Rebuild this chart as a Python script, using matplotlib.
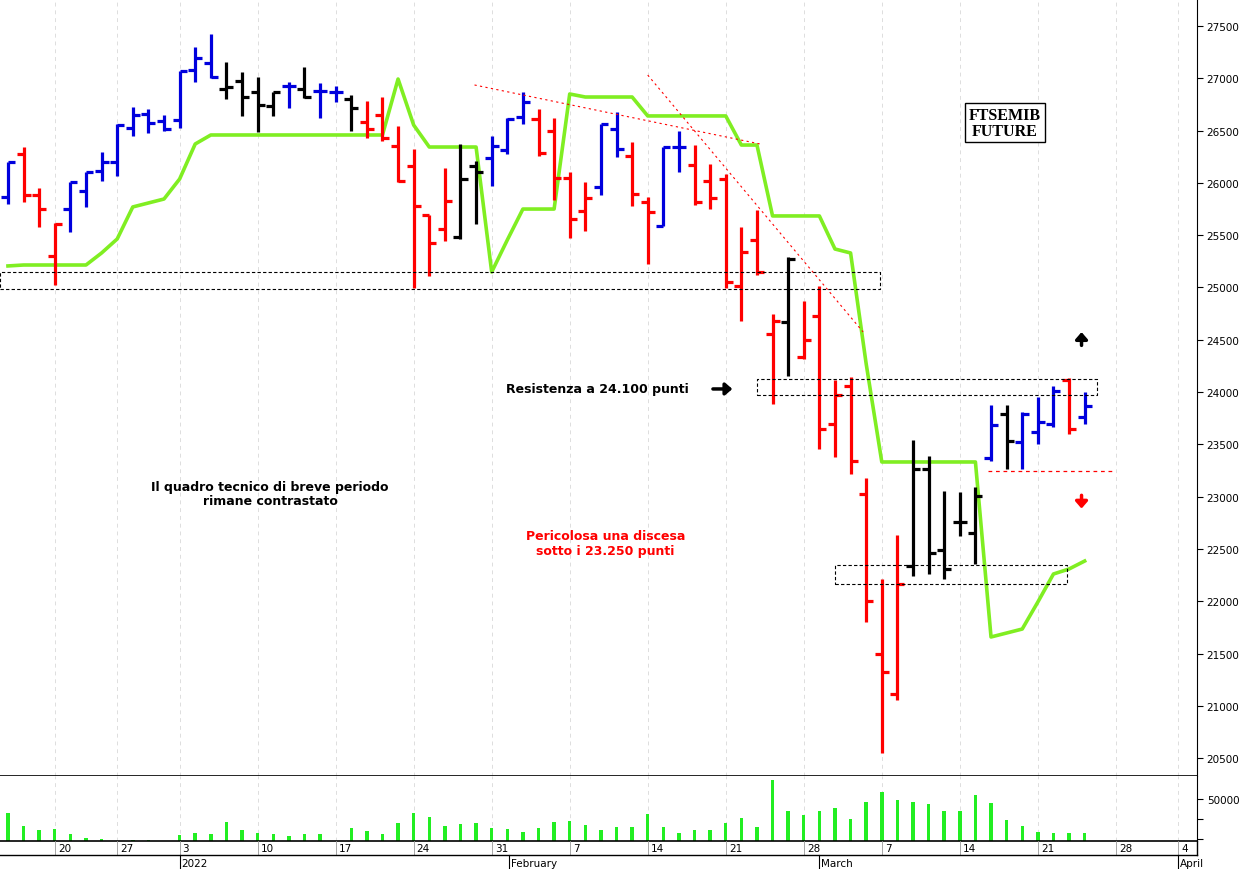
import matplotlib.pyplot as plt
import numpy as np

# ── DATA ──────────────────────────────────────────────────────────────────
OPEN = [25865, 26276, 25884, 25301, 25750, 25922, 26114, 26200, 26525, 26659,
        26592, 26601, 27079, 27146, 26898, 26974, 26869, 26735, 26926, 26898,
        26878, 26869, 26802, 26582, 26649, 26353, 26161, 25693, 25559, 25483,
        26161, 26238, 26314, 26630, 26611, 26496, 26047, 25731, 25961, 26515,
        26257, 25817, 25588, 26343, 26171, 26018, 26037, 25014, 25454, 24555,
        24670, 24336, 24727, 23695, 24058, 23026, 21496, 21114, 22337, 23265,
        22490, 22758, 22653, 23370, 23791, 23523, 23619, 23695, 24116, 23762]
HIGH = [26200, 26343, 25951, 25617, 26009, 26104, 26295, 26563, 26726, 26706,
        26649, 27070, 27299, 27423, 27156, 27060, 27012, 26869, 26965, 27108,
        26955, 26926, 26840, 26783, 26821, 26544, 26324, 25693, 26142, 26372,
        26209, 26448, 26620, 26869, 26706, 26620, 26104, 26009, 26563, 26678,
        26391, 25865, 26343, 26496, 26362, 26181, 26085, 25578, 25741, 24747,
        25292, 24871, 25014, 24116, 24144, 23179, 22213, 22634, 23542, 23389,
        23054, 23044, 23093, 23877, 23877, 23810, 23953, 24058, 24135, 24001]
LOW = [25800, 25817, 25578, 25024, 25531, 25770, 26018, 26066, 26448, 26477,
       26496, 26525, 26965, 27003, 26802, 26639, 26487, 26639, 26716, 26812,
       26620, 26773, 26496, 26429, 26400, 26009, 24995, 25110, 25444, 25464,
       25607, 25970, 26276, 26563, 26257, 25836, 25473, 25540, 25884, 26248,
       25779, 25225, 25588, 26104, 25789, 25750, 24995, 24680, 25119, 23886,
       24154, 24316, 23456, 23380, 23217, 21802, 20550, 21056, 22242, 22261,
       22213, 22624, 22357, 23341, 23265, 23265, 23504, 23666, 23599, 23695]
CLOSE = [26200, 25884, 25750, 25607, 26009, 26104, 26200, 26553, 26649, 26573,
         26515, 27070, 27194, 27012, 26917, 26821, 26745, 26869, 26926, 26821,
         26878, 26869, 26716, 26515, 26429, 26018, 25779, 25425, 25827, 26037,
         26104, 26353, 26611, 26773, 26286, 26047, 25655, 25856, 26563, 26324,
         25894, 25722, 26343, 26343, 25817, 25856, 25053, 25339, 25148, 24680,
         25272, 24498, 23647, 23972, 23341, 22003, 21324, 22165, 23265, 22462,
         22309, 22758, 23007, 23685, 23532, 23791, 23714, 24010, 23647, 23867]
# B = blu, R = rosso, K = nero
COLS = list("BRRRBBBBBBBBBBKKKKBKBBKRRRRRRKKBBBRRRRBBRRBBRRRRRRKRRRRRRRKKKKKBKBBBRB")
STOP = [25206, 25215, 25215, 25215, 25215, 25215, 25330, 25464, 25770, 25808,
        25846, 26037, 26372, 26458, 26458, 26458, 26458, 26458, 26458, 26458,
        26458, 26458, 26458, 26458, 26458, 26993, 26553, 26343, 26343, 26343,
        26343, 25148, 25454, 25750, 25750, 25750, 26850, 26821, 26821, 26821,
        26821, 26640, 26640, 26640, 26640, 26640, 26640, 26362, 26362, 25684,
        25684, 25684, 25684, 25368, 25330, 24269, 23332, 23332, 23332, 23332,
        23332, 23332, 23332, 21659, 21697, 21735, 21993, 22261, 22309, 22385]
VOL = [36000, 22976, 19456, 20160, 14528, 11360, 9952, 8192, 8544, 9248,
       7136, 13824, 16288, 15232, 27200, 19456, 15936, 14528, 13472, 14880,
       15232, 8192, 21216, 18400, 14528, 26144, 35648, 32128, 22976, 25088,
       26144, 20512, 20160, 17344, 21216, 27200, 28256, 24384, 19104, 21920,
       21920, 34944, 21920, 15584, 19456, 18752, 26144, 31424, 21920, 69440,
       38464, 33536, 37760, 40576, 30368, 46560, 56768, 49024, 46560, 45152,
       37760, 38112, 53600, 45856, 28608, 22976, 16640, 15936, 15936, 16288]

WEEK_IDX = [3, 7, 11, 16, 21, 26, 31, 36, 41, 46, 51, 56, 61, 66, 71, 75]
WEEK_LBL = ["20", "27", "3", "10", "17", "24", "31", "7", "14", "21", "28",
            "7", "14", "21", "28", "4"]
MONTH_IDX = [11, 32.1, 52, 75]
MONTH_LBL = ["2022", "February", "March", "April"]

COLOR_MAP = {"B": "#0000dd", "R": "#ff0000", "K": "#000000"}
SANS = "DejaVu Sans"

# ── FIGURA ────────────────────────────────────────────────────────────────
fig = plt.figure(figsize=(12.47, 8.70), dpi=100)
W, H = 1247.0, 870.0
ax = fig.add_axes([0, 1 - 777 / H, 1197 / W, 777 / H])
axv = fig.add_axes([0, 1 - 842 / H, 1197 / W, 65 / H], sharex=ax)

XMIN, XMAX = -0.51, 76.2
x = np.arange(len(OPEN))
tick = 0.45

for i in x:
    c = COLOR_MAP[COLS[i]]
    ax.plot([i, i], [LOW[i], HIGH[i]], color=c, lw=2.3, solid_capstyle="butt")
    ax.plot([i - tick, i], [OPEN[i], OPEN[i]], color=c, lw=2.3, solid_capstyle="butt")
    ax.plot([i, i + tick], [CLOSE[i], CLOSE[i]], color=c, lw=2.3, solid_capstyle="butt")

ax.plot(x, STOP, color="#80ee22", lw=2.6, zorder=1)

for wi in WEEK_IDX:
    ax.axvline(wi, color="#dddddd", ls=(0, (4, 4)), lw=0.7, zorder=0)
    axv.axvline(wi, color="#dddddd", ls=(0, (4, 4)), lw=0.7, zorder=0)

# rettangoli tratteggiati
boxes = [(-0.5, 55.9, 24985, 25148), (48.0, 69.8, 23972, 24125), (53.0, 67.9, 22165, 22347)]
for x0, x1, y0, y1 in boxes:
    ax.plot([x0, x1, x1, x0, x0], [y0, y0, y1, y1, y0], color="black", ls=(0, (3, 2)), lw=0.8)

# trendline rosse
ax.plot([29.9, 48.2], [26936, 26372], color="red", ls=(0, (2, 3)), lw=0.8)
ax.plot([41.0, 54.8], [27031, 24575], color="red", ls=(0, (2, 3)), lw=0.8)
ax.plot([62.8, 70.8], [23250, 23250], color="red", ls=(0, (3, 3)), lw=0.9)

# testi
ax.text(63.9, 26573, "FTSEMIB\nFUTURE", ha="center", va="center", fontsize=11.5,
        fontweight="bold", family="Liberation Serif", linespacing=1.0,
        bbox=dict(facecolor="white", edgecolor="black", lw=1, pad=2.5))
ax.text(31.9, 24030, "Resistenza a 24.100 punti", ha="left", va="center",
        fontsize=9, fontweight="bold", family=SANS)
ax.annotate("", xy=(46.6, 24030), xytext=(45.0, 24030),
            arrowprops=dict(arrowstyle="-|>,head_width=0.35,head_length=0.4", color="black", lw=2.5))
ax.text(16.8, 23026, "Il quadro tecnico di breve periodo\nrimane contrastato", ha="center",
        va="center", fontsize=9, fontweight="bold", family=SANS, linespacing=1.1)
ax.text(38.3, 22557, "Pericolosa una discesa\nsotto i 23.250 punti", ha="center",
        va="center", fontsize=9, fontweight="bold", family=SANS,
        color="red", linespacing=1.15)
ax.annotate("", xy=(68.8, 24600), xytext=(68.8, 24420),
            arrowprops=dict(arrowstyle="-|>,head_width=0.35,head_length=0.4", color="black", lw=2.5))
ax.annotate("", xy=(68.8, 22860), xytext=(68.8, 23040),
            arrowprops=dict(arrowstyle="-|>,head_width=0.35,head_length=0.4", color="red", lw=2.5))

ax.set_xlim(XMIN, XMAX)
ax.set_ylim(20330, 27758)
ax.yaxis.tick_right()
ax.set_yticks(np.arange(20500, 27501, 500))
ax.tick_params(axis="y", labelsize=7.5, length=4, direction="out", pad=3)
ax.tick_params(axis="x", bottom=False, labelbottom=False)
for s in ["top", "left"]:
    ax.spines[s].set_visible(False)
ax.spines["bottom"].set_color("black")
ax.spines["bottom"].set_linewidth(1.2)

# ── VOLUMI ────────────────────────────────────────────────────────────────
axv.bar(x, VOL, width=0.22, color="#22ee22", bottom=0)
axv.set_ylim(8000, 73000)
axv.yaxis.tick_right()
axv.set_yticks([10000, 30000, 50000])
axv.set_yticklabels(["", "", "50000"])
axv.tick_params(axis="y", labelsize=7.5, length=4, pad=3)
axv.tick_params(axis="x", bottom=False, labelbottom=False)
axv.spines["top"].set_visible(False)
axv.spines["left"].set_visible(False)
axv.spines["bottom"].set_linewidth(1.2)

# ── ASSE DATE ─────────────────────────────────────────────────────────────
for wi, lbl in zip(WEEK_IDX, WEEK_LBL):
    px = (wi - XMIN) / (XMAX - XMIN) * (1197 / W)
    fig.lines.append(plt.Line2D([px, px], [1 - 842 / H, 1 - 856 / H], transform=fig.transFigure,
                                color="#999999", lw=0.6))
    fig.text(px + 3 / W, 1 - 849 / H, lbl, ha="left", va="center", fontsize=7.5)
for mi, lbl in zip(MONTH_IDX, MONTH_LBL):
    px = (mi - XMIN) / (XMAX - XMIN) * (1197 / W)
    fig.lines.append(plt.Line2D([px, px], [1 - 856 / H, 0], transform=fig.transFigure,
                                color="black", lw=0.8))
    fig.text(px + 2 / W, 1 - 864 / H, lbl, ha="left", va="center", fontsize=7.5)
fig.lines.append(plt.Line2D([0, 1197 / W], [1 - 856 / H, 1 - 856 / H], transform=fig.transFigure,
                            color="black", lw=1))
fig.lines.append(plt.Line2D([1197 / W, 1197 / W], [1 - 856 / H, 1 - 842 / H],
                            transform=fig.transFigure, color="black", lw=1))

fig.savefig("out.png", dpi=100)
